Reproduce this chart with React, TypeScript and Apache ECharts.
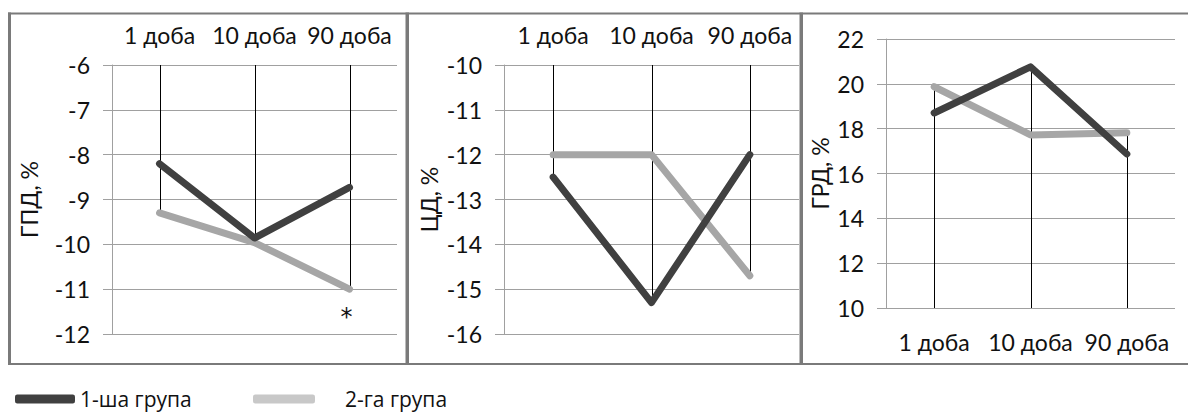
import React, { useEffect, useRef } from "react";
import * as echarts from "echarts";

const categories = ["1 доба", "10 доба", "90 доба"];
const seriesNames = ["1-ша група", "2-га група"];

const gpdGroup1 = [-8.2, -9.86, -8.73];
const gpdGroup2 = [-9.3, -9.96, -11.0];
const cdGroup1 = [-12.5, -15.3, -12.0];
const cdGroup2 = [-12.0, -12.0, -14.7];
const grdGroup1 = [18.7, 20.76, 16.87];
const grdGroup2 = [19.87, 17.72, 17.82];

// [min, max, interval]
const gpdAxis = [-12, -6, 1];
const cdAxis = [-16, -10, 1];
const grdAxis = [10, 22, 2];

const axisTitles = ["ГПД, %", "ЦД, %", "ГРД, %"];
const significance = ["*"];

const FONT = "Lato";
const FS = 23;
const DARK = "#404040";
const LIGHT = "#a6a6a6";
const LEGEND_LIGHT = "#c8c8c8";
const GRID_COLOR = "#a0a0a0";
const BORDER = "#7a7a7a";

export default function App() {
  const ref = useRef<HTMLDivElement>(null);

  useEffect(() => {
    if (!ref.current) return;
    const chart = echarts.init(ref.current, null, { renderer: "svg" });

    const panels = [
      { g1: gpdGroup1, g2: gpdGroup2, ax: gpdAxis, top: true, name: axisTitles[0], nameGap: 72 },
      { g1: cdGroup1, g2: cdGroup2, ax: cdAxis, top: true, name: axisTitles[1], nameGap: 64 },
      { g1: grdGroup1, g2: grdGroup2, ax: grdAxis, top: false, name: axisTitles[2], nameGap: 55 },
    ];

    const grids = [
      { left: 112, top: 65, width: 285, height: 269 },
      { left: 504, top: 65, width: 295, height: 269 },
      { left: 886, top: 39, width: 289, height: 269 },
    ];

    const xAxes: any[] = [];
    const yAxes: any[] = [];
    const series: any[] = [];

    panels.forEach((p, i) => {
      xAxes.push({
        type: "category",
        gridIndex: i,
        data: categories,
        position: p.top ? "top" : "bottom",
        boundaryGap: true,
        axisLine: { show: false },
        axisTick: { show: false },
        axisLabel: {
          interval: 0,
          hideOverlap: false,
          color: "#111",
          fontFamily: FONT,
          fontSize: FS,
          margin: p.top ? 19 : 22,
        },
      });
      yAxes.push({
        type: "value",
        gridIndex: i,
        min: p.ax[0],
        max: p.ax[1],
        interval: p.ax[2],
        name: p.name,
        nameLocation: "middle",
        nameGap: p.nameGap,
        nameRotate: 90,
        nameTextStyle: { color: "#111", fontFamily: FONT, fontSize: FS },
        axisLine: { show: true, lineStyle: { color: GRID_COLOR, width: 1 } },
        axisTick: { show: true, length: 9, lineStyle: { color: GRID_COLOR } },
        axisLabel: { color: "#111", fontFamily: FONT, fontSize: FS, margin: 22 },
        splitLine: { show: true, lineStyle: { color: GRID_COLOR, width: 1 } },
      });

      const edge = p.top ? p.ax[1] : p.ax[0];
      const dropData = categories.map((_, k) => {
        const far = p.top ? Math.min(p.g1[k], p.g2[k]) : Math.max(p.g1[k], p.g2[k]);
        return [k, far, edge];
      });
      series.push({
        type: "custom",
        xAxisIndex: i,
        yAxisIndex: i,
        z: 1,
        silent: true,
        encode: { x: 0, y: [1, 2] },
        data: dropData,
        renderItem: (params: any, api: any) => {
          const a = api.coord([api.value(0), api.value(1)]);
          const b = api.coord([api.value(0), api.value(2)]);
          const x = Math.round(a[0]) + 0.5;
          return {
            type: "line",
            shape: { x1: x, y1: a[1], x2: x, y2: b[1] },
            style: { stroke: "#000", lineWidth: 1 },
          };
        },
      });

      series.push({
        type: "line",
        name: seriesNames[0],
        xAxisIndex: i,
        yAxisIndex: i,
        z: 3,
        data: p.g1,
        symbol: "none",
        lineStyle: { color: DARK, width: 7, cap: "round", join: "round" },
        itemStyle: { color: DARK },
      });
      const s2: any = {
        type: "line",
        name: seriesNames[1],
        xAxisIndex: i,
        yAxisIndex: i,
        z: 2,
        data: p.g2,
        symbol: "none",
        lineStyle: { color: LIGHT, width: 7, cap: "round", join: "round" },
        itemStyle: { color: LIGHT },
      };
      if (i === 0) {
        s2.markPoint = {
          symbol: "circle",
          symbolSize: 1,
          itemStyle: { color: "rgba(0,0,0,0)" },
          silent: true,
          data: [
            {
              coord: [2, p.g2[2]],
              label: {
                show: true,
                formatter: significance[0],
                color: "#111",
                fontFamily: "DejaVu Sans",
                fontSize: 24,
                offset: [-3, 28],
              },
            },
          ],
        };
      }
      series.push(s2);
    });

    const legendText = {
      color: "#111",
      fontFamily: "Open Sans",
      fontSize: 21,
      lineHeight: 22,
    };

    const option: any = {
      animation: false,
      backgroundColor: "#fff",
      grid: grids,
      xAxis: xAxes,
      yAxis: yAxes,
      series,
      legend: [
        {
          left: 10,
          top: 383,
          icon: "roundRect",
          itemWidth: 60,
          itemHeight: 9,
          selectedMode: false,
          data: [{ name: seriesNames[0], itemStyle: { color: DARK } }],
          textStyle: { ...legendText },
        },
        {
          left: 248,
          top: 383,
          icon: "roundRect",
          itemWidth: 62,
          itemHeight: 9,
          selectedMode: false,
          data: [{ name: seriesNames[1], itemStyle: { color: LEGEND_LIGHT } }],
          textStyle: { ...legendText, padding: [0, 0, 0, 25] },
        },
      ],
      graphic: [
        { type: "rect", shape: { x: 8, y: 12.5, width: 3, height: 352 }, style: { fill: BORDER }, silent: true },
        { type: "rect", shape: { x: 8, y: 12.5, width: 1180, height: 2 }, style: { fill: BORDER }, silent: true },
        { type: "rect", shape: { x: 8, y: 363, width: 1180, height: 2 }, style: { fill: BORDER }, silent: true },
        { type: "rect", shape: { x: 405.5, y: 12.5, width: 3.5, height: 352 }, style: { fill: BORDER }, silent: true },
        { type: "rect", shape: { x: 799.5, y: 12.5, width: 3.5, height: 352 }, style: { fill: BORDER }, silent: true },
      ],
    };

    chart.setOption(option);
    return () => chart.dispose();
  }, []);

  return (
    <div
      ref={ref}
      style={{ position: "fixed", left: 0, top: 0, width: 1188, height: 415 }}
    />
  );
}
